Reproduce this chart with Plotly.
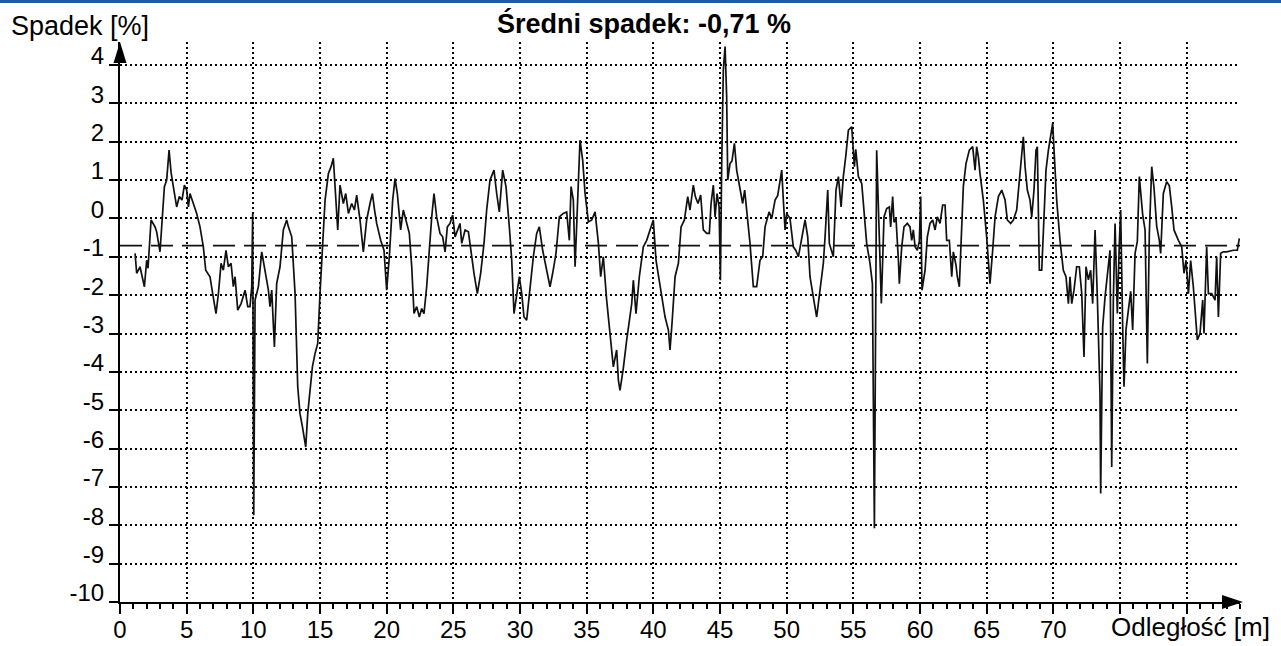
import plotly.graph_objects as go

# profile of the slope along the measured distance
# segment 1: 0 - 20 m
dist_a = [1.13, 1.25, 1.5, 1.83, 2.0, 2.1, 2.33, 2.63, 2.75, 3.0, 3.33, 3.5, 3.68, 3.83, 4.0,
          4.25, 4.45, 4.65, 4.83, 5.0, 5.13, 5.25, 5.5, 5.75, 6.0, 6.25, 6.43, 6.75, 6.95, 7.2,
          7.38, 7.58, 7.75, 7.95, 8.13, 8.33, 8.5, 8.63, 8.83, 9.08, 9.38, 9.58, 9.75, 9.88, 9.95,
          10.03, 10.13, 10.38, 10.63, 10.88, 11.13, 11.25, 11.38, 11.58, 11.75, 12.0, 12.25, 12.5,
          12.63, 12.88, 13.13, 13.33, 13.5, 13.68, 13.93, 14.08, 14.25, 14.43, 14.63, 14.83, 15.0,
          15.18, 15.38, 15.63, 15.83, 16.0, 16.13, 16.33, 16.5, 16.75, 16.93, 17.13, 17.38, 17.58,
          17.75, 18.0, 18.25, 18.5, 18.75, 18.93, 19.1, 19.25, 19.55, 19.8]
slope_a = [-0.91, -1.43, -1.26, -1.78, -1.09, -1.3, -0.04, -0.22, -0.35, -0.87, 0.83, 1.0, 1.78, 1.2, 0.83,
           0.3, 0.57, 0.48, 0.87, 0.74, 0.3, 0.65, 0.39, 0.13, -0.22, -0.74, -1.35, -1.52, -1.96, -2.48,
           -1.96, -1.17, -1.35, -0.83, -1.26, -1.17, -1.78, -1.52, -2.39, -2.22, -1.87, -2.3, -2.3, -1.78, 0.13,
           -7.74, -2.13, -1.78, -0.87, -1.43, -1.87, -2.3, -1.87, -3.35, -1.7, -1.26, -0.3, -0.04,
           -0.22, -0.48, -1.96, -4.39, -5.09, -5.43, -5.96, -5.09, -4.57, -3.87, -3.52, -3.26, -1.96,
           -0.74, 0.48, 1.17, 1.35, 1.57, 0.83, -0.3, 0.87, 0.39, 0.65, 0.13, 0.39, 0.22,
           0.61, -0.04, -0.87, -0.04, 0.39, 0.65, 0.2, -0.13, -0.57, -0.83]

# segment 2: 20 - 57 m
dist_b = [20.0, 20.2, 20.45, 20.63, 20.8, 21.05, 21.25, 21.45, 21.7, 21.88, 22.05, 22.25, 22.45, 22.63,
          22.8, 23.0, 23.2, 23.38, 23.55, 23.75, 24.0, 24.2, 24.38, 24.55, 24.75, 24.95, 25.13, 25.3,
          25.5, 25.63, 25.88, 26.13, 26.33, 26.55, 26.8, 27.05, 27.3, 27.5, 27.75, 28.05, 28.25, 28.45,
          28.7, 28.95, 29.2, 29.38, 29.55, 29.75, 29.95, 30.13, 30.3, 30.5, 30.7, 31.0, 31.25, 31.45,
          31.7, 31.95, 32.25, 32.45, 32.7, 32.95, 33.25, 33.5, 33.7, 33.83, 34.0, 34.13, 34.3, 34.5,
          34.7, 34.88, 35.13, 35.38, 35.63, 35.88, 36.05, 36.25, 36.5, 36.75, 37.0, 37.25, 37.38, 37.5,
          37.75, 38.0, 38.25, 38.38, 38.5, 38.7, 38.95, 39.25, 39.5, 39.88, 40.0, 40.2, 40.45, 40.63,
          40.88, 41.13, 41.25, 41.4, 41.63, 41.88, 42.08, 42.33, 42.58, 42.75, 43.0, 43.15, 43.35, 43.55,
          43.75, 44.0, 44.2, 44.33, 44.5, 44.63, 44.78, 44.93, 45.03, 45.13, 45.25, 45.38, 45.5, 45.58,
          45.75, 45.9, 46.08, 46.25, 46.5, 46.7, 46.85, 47.0, 47.25, 47.5, 47.75, 48.0, 48.2, 48.38,
          48.68, 48.88, 49.13, 49.33, 49.5, 49.63, 49.75, 49.88, 50.0, 50.25, 50.5, 50.68, 50.88, 51.08,
          51.38, 51.58, 51.75, 52.08, 52.25, 52.5, 52.75, 52.88, 53.08, 53.2, 53.35, 53.5, 53.7, 53.88,
          54.08, 54.25, 54.43, 54.63, 54.88, 55.08, 55.18, 55.38, 55.63, 55.83, 56.0, 56.25, 56.43,
          56.58, 56.75, 57.1]
slope_b = [-1.87, -1.0, 0.48, 1.04, 0.65, -0.3, 0.22, -0.04, -0.39, -1.26, -2.48, -2.3, -2.57, -2.35,
           -2.48, -1.78, -0.74, 0.04, 0.65, 0.04, -0.39, -0.48, -0.87, -0.22, -0.13, 0.09, -0.48, -0.3,
           -0.13, -0.65, -0.3, -0.35, -0.91, -1.43, -1.96, -1.43, -0.65, 0.22, 1.0, 1.26, 0.65, 0.17,
           1.26, 0.83, -0.22, -1.09, -2.48, -1.96, -1.52, -1.96, -2.57, -2.65, -1.96, -1.0, -0.39, -0.22,
           -0.83, -1.26, -1.78, -1.43, -0.91, 0.04, 0.13, 0.17, -0.57, 0.83, 0.48, -1.26, 0.48, 2.04,
           1.52, 0.65, -0.09, -0.04, 0.17, -0.65, -1.52, -1.0, -2.13, -3.09, -3.87, -3.43, -4.22, -4.48,
           -3.9, -3.17, -2.57, -2.22, -1.61, -2.48, -1.52, -0.74, -0.57, -0.13, -0.04, -1.09, -1.61, -2.04,
           -2.57, -2.91, -3.43, -2.74, -1.52, -1.17, -0.22, -0.04, 0.57, 0.22, 0.87, 0.57, 0.39, 0.61,
           -0.3, -0.39, -0.39, 0.39, 0.87, 0.04, 0.65, 0.3, -1.61, 1.48, 3.87, 4.48, 3.17, 1.0,
           1.43, 1.5, 1.96, 1.26, 0.74, 0.39, 0.74, 0.22, -0.65, -1.78, -1.78, -1.09, -1.0, -0.22,
           0.17, 0.0, 0.48, 0.6, 1.0, 1.26, 0.48, -0.3, 0.13, 0.0, -0.74, -0.83, -1.0, -0.65,
           -0.04, -0.48, -1.52, -2.22, -2.57, -1.87, -1.17, -0.48, 0.74, -0.65, -0.83, -1.0, 0.74, 1.09,
           0.3, 1.09, 1.61, 2.3, 2.39, 1.35, 1.8, 1.09, 0.91, 0.04, -0.65, -1.17, -1.7,
           -8.08, 1.78, -2.22]

# segment 3: 57 - 84 m
dist_c = [57.3, 57.5, 57.7, 57.8, 57.95, 58.05, 58.2, 58.38, 58.45, 58.63, 58.8, 59.05, 59.25, 59.38,
          59.5, 59.63, 59.8, 59.95, 60.05, 60.15, 60.38, 60.55, 60.75, 60.95, 61.13, 61.3, 61.5, 61.7,
          61.88, 62.0, 62.2, 62.38, 62.5, 62.7, 62.8, 62.95, 63.13, 63.25, 63.45, 63.7, 63.95, 64.13,
          64.25, 64.38, 64.5, 64.75, 65.0, 65.13, 65.25, 65.45, 65.63, 65.88, 66.13, 66.38, 66.55, 66.8,
          67.0, 67.25, 67.45, 67.63, 67.75, 67.88, 68.05, 68.25, 68.38, 68.55, 68.7, 68.8, 68.95, 69.13,
          69.25, 69.45, 69.63, 69.8, 69.95, 70.08, 70.25, 70.5, 70.75, 70.95, 71.13, 71.25, 71.38, 71.55,
          71.75, 71.95, 72.13, 72.3, 72.45, 72.63, 72.8, 72.95, 73.13, 73.3, 73.5, 73.55, 73.7, 73.88,
          74.08, 74.25, 74.38, 74.5, 74.63, 74.8, 74.95, 75.05, 75.2, 75.3, 75.45, 75.63, 75.8, 75.95,
          76.13, 76.3, 76.45, 76.7, 76.88, 77.05, 77.2, 77.38, 77.55, 77.75, 77.95, 78.05, 78.25, 78.5,
          78.7, 78.88, 79.05, 79.38, 79.63, 79.8, 79.95, 80.13, 80.3, 80.5, 80.63, 80.8, 81.0, 81.2,
          81.3, 81.5, 81.63, 81.88, 82.13, 82.25, 82.38, 82.55, 82.75, 83.0, 83.5, 83.8, 83.95]
slope_c = [0.04, 0.26, 0.3, -0.22, 0.57, -0.1, 0.0, -1.09, -1.7, -0.74, -0.22, -0.13, -0.22, -0.57,
           -0.3, -0.74, -0.83, -0.6, 0.57, -1.87, -1.35, -0.48, -0.13, -0.04, -0.3, 0.04, -0.13, 0.35,
           0.35, -0.57, -0.57, -1.52, -0.87, -1.22, -1.52, -1.78, -0.22, 0.83, 1.43, 1.78, 1.87, 1.26,
           1.87, 1.6, 1.17, 0.48, -0.48, -1.17, -1.7, -0.83, 0.04, 0.57, 0.74, 0.48, -0.04, -0.13,
           -0.04, 0.22, 0.91, 1.61, 2.13, 1.35, 0.74, 0.48, 0.04, 0.74, 1.78, 1.87, -1.35, -1.35,
           -0.48, 1.26, 1.78, 2.13, 2.48, 1.61, 0.48, -0.57, -1.35, -1.52, -2.22, -1.52, -2.22, -1.87,
           -1.26, -1.26, -1.96, -3.61, -1.26, -1.6, -1.35, -2.22, -0.3, -2.04, -4.57, -7.17, -2.83, -2.04,
           -1.3, -0.83, -6.48, -2.13, -0.13, -2.48, -0.65, 0.22, -2.83, -4.39, -2.9, -2.3, -1.9, -2.91,
           -0.91, -0.6, 1.09, 0.1, -0.3, -3.78, -0.4, 1.35, 0.8, -0.2, -0.57, -0.91, 0.65, 0.96,
           0.85, 0.3, -0.3, -0.57, -0.74, -1.43, -1.09, -1.96, -1.1, -1.78, -2.48, -3.17, -3.0, -2.13,
           -3.0, -0.74, -1.96, -1.96, -2.13, -1.0, -2.57, -0.91, -0.87, -0.87, -0.83, -0.83, -0.52]

MEAN = -0.71
x_ticks = list(range(0, 85, 5))
x_labels = [str(v) if v <= 70 else "" for v in x_ticks]
y_ticks = list(range(-10, 5))
y_labels = [str(v) for v in y_ticks]

X_RANGE = [0, 84]
Y_RANGE = [-10, 4.6]

FONT = "Liberation Sans, Arial, sans-serif"

# layout geometry in pixels
W, H = 1281, 646
ML, MR, MT, MB = 120, 41, 42, 44
PW, PH = W - ML - MR, H - MT - MB


def px(x):
    return (x - ML) / PW


def py(y):
    return (H - MB - y) / PH


fig = go.Figure()
fig.add_trace(go.Scatter(x=dist_a + dist_b + dist_c, y=slope_a + slope_b + slope_c,
                         mode="lines", line=dict(color="#111111", width=1.7),
                         hoverinfo="skip"))
fig.add_hline(y=MEAN, line=dict(color="#111111", width=1.6, dash="22px,9px"))

axis_common = dict(showline=True, linecolor="black", linewidth=2, zeroline=False,
                   automargin=False,
                   showgrid=True, gridcolor="black", gridwidth=1.6, griddash="2px,3px",
                   ticks="outside", tickcolor="black", tickwidth=1.5,
                   tickfont=dict(family=FONT, size=24, color="black"))

fig.update_xaxes(range=X_RANGE, tickvals=x_ticks, ticktext=x_labels, ticklen=10,
                 ticklabelstandoff=-5,
                 minor=dict(dtick=1, ticks="outside", ticklen=5, tickcolor="black",
                            tickwidth=1.5, showgrid=False),
                 **axis_common)
fig.update_yaxes(range=Y_RANGE, tickvals=y_ticks, ticktext=y_labels, ticklen=9,
                 ticklabelshift=-9, **axis_common)

# arrow heads on the axes
fig.add_shape(type="path", xref="paper", yref="paper", line=dict(width=0), fillcolor="black",
              path=f"M {px(120)},{py(42)} L {px(113.5)},{py(63)} L {px(126.5)},{py(63)} Z")
fig.add_shape(type="path", xref="paper", yref="paper", line=dict(width=0), fillcolor="black",
              path=f"M {px(1243)},{py(602)} L {px(1222)},{py(595)} L {px(1222)},{py(609)} Z")
# blue frame line at the top
fig.add_shape(type="rect", xref="paper", yref="paper", line=dict(width=0), fillcolor="#1d5aa8",
              x0=px(0), x1=px(W), y0=py(3), y1=py(0))

mean_txt = f"{MEAN:.2f}".replace(".", ",")
fig.add_annotation(text=f"<b>Średni spadek: {mean_txt} %</b>", xref="paper", yref="paper",
                   x=px(644), y=py(24), showarrow=False, xanchor="center", yanchor="middle",
                   font=dict(family=FONT, size=27, color="black"))
fig.add_annotation(text="Spadek [%]", xref="paper", yref="paper", x=px(9), y=py(26),
                   showarrow=False, xanchor="left", yanchor="middle",
                   font=dict(family=FONT, size=27, color="black"))
fig.add_annotation(text="Odległość [m]", xref="paper", yref="paper", x=px(1272), y=py(627),
                   showarrow=False, xanchor="right", yanchor="middle",
                   font=dict(family=FONT, size=26, color="black"))

fig.update_layout(template="none", width=W, height=H, margin=dict(l=ML, r=MR, t=MT, b=MB),
                  plot_bgcolor="white", paper_bgcolor="white", showlegend=False,
                  font=dict(family=FONT, color="black"))

# drop the default page margin so the figure fills the window exactly
fig.write_html("out.html", config={"displayModeBar": False},
               post_script="document.body.style.margin='0';document.body.style.overflow='hidden';")
